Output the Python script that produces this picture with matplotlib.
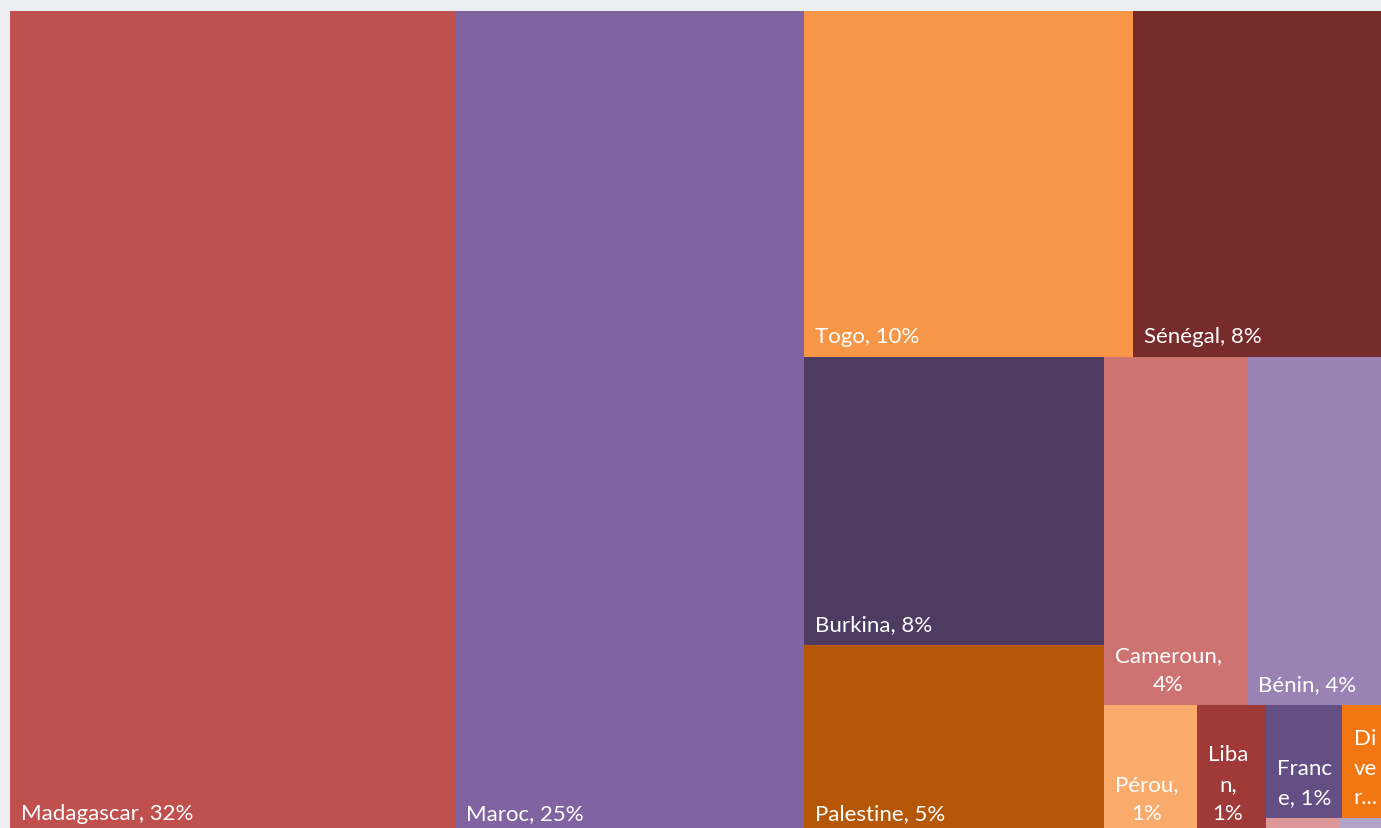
import matplotlib
matplotlib.use("Agg")
import matplotlib.pyplot as plt
from matplotlib.patches import Rectangle

# ---- data ----
countries = ["Madagascar", "Maroc", "Togo", "Sénégal", "Burkina", "Palestine",
             "Cameroun", "Bénin", "Pérou", "Liban", "France", "Divers",
             "Autre 1", "Autre 2"]
shares = [32.39, 25.40, 10.08, 7.69, 7.63, 5.01, 4.40, 4.21, 1.06, 0.79,
          0.76, 0.42, 0.105, 0.062]
labels = ["Madagascar, 32%", "Maroc, 25%", "Togo, 10%", "Sénégal, 8%",
          "Burkina, 8%", "Palestine, 5%", "Cameroun,\n4%", "Bénin, 4%",
          "Pérou,\n1%", "Liba\nn,\n1%", "Franc\ne, 1%", "Di\nve\nr...", "", ""]
colors = ["#C0504D", "#8064A2", "#F79646", "#772B2A", "#4D3B62", "#B65708",
          "#CD7371", "#9983B5", "#F9AB6B", "#9F3A38", "#644F84", "#F27612",
          "#DC9695", "#B3A2C7"]

# nested split structure (h = side by side columns, v = stacked rows)
structure = ('h', [0, 1,
                   ('v', [('h', [2, 3]),
                          ('h', [('v', [4, 5]),
                                 ('v', [('h', [6, 7]),
                                        ('h', [8, 9,
                                               ('v', [('h', [10, 11]),
                                                      ('h', [12, 13])])])])])])])


def total(node):
    if isinstance(node, int):
        return shares[node]
    return sum(total(c) for c in node[1])


rects = {}


def layout(node, x, y, w, h):
    if isinstance(node, int):
        rects[node] = (x, y, w, h)
        return
    orient, children = node
    tot = total(node)
    pos = 0.0
    for c in children:
        f = total(c) / tot
        if orient == 'h':
            layout(c, x + pos * w, y, w * f, h)
        else:
            layout(c, x, y + pos * h, w, h * f)
        pos += f


layout(structure, 0.0, 0.0, 1.0, 1.0)

W, H = 1381, 829
fig = plt.figure(figsize=(W / 100, H / 100), dpi=100)
fig.patch.set_facecolor("#ECEEF1")
ax = fig.add_axes([10 / W, -6 / H, 1374 / W, 823 / H])
ax.set_xlim(0, 1)
ax.set_ylim(1, 0)
ax.axis("off")

for i, (x, y, w, h) in rects.items():
    ax.add_patch(Rectangle((x, y), w, h, facecolor=colors[i], edgecolor="none"))
    if labels[i]:
        ax.annotate(labels[i], xy=(x, y + h), xytext=(11, 15),
                    textcoords="offset pixels", ha="left", va="baseline",
                    multialignment="center", color="white", fontsize=16,
                    family="Lato", linespacing=1.58, annotation_clip=False)

fig.savefig("out.png", dpi=100, facecolor=fig.get_facecolor())
